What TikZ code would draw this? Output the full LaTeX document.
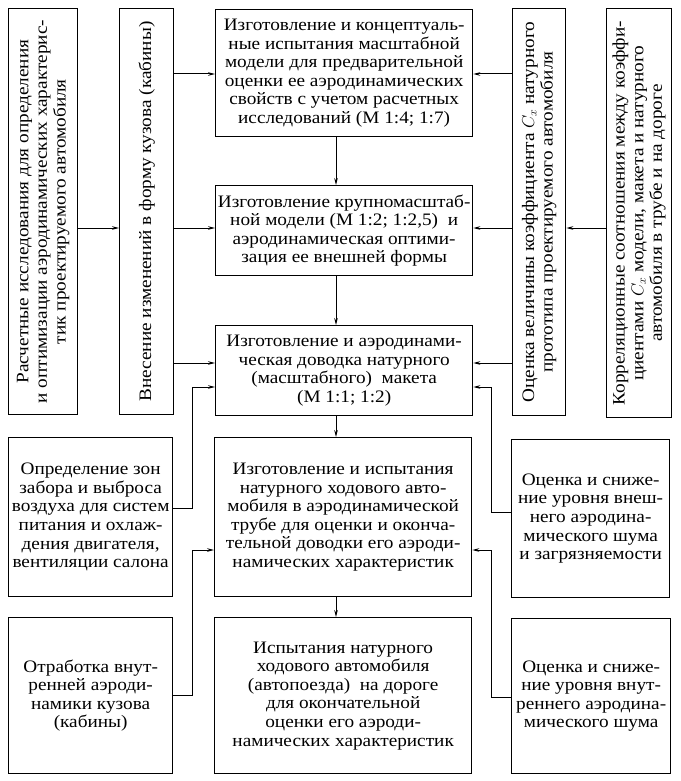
\documentclass[tikz,border=0pt]{standalone}
\usepackage{fontspec}
\setmainfont{Liberation Serif}[FakeStretch=1.1]
\usetikzlibrary{arrows.meta}
\newcommand\fs{\fontsize{17.5}{18.6}\selectfont}
\begin{document}
\begin{tikzpicture}[x=1pt,y=-1pt,
  box/.style={draw, line width=1.3pt, inner sep=0pt, align=center, anchor=north west, font=\fs},
  vtext/.style={rotate=90, align=center, inner sep=0pt, font=\fs},
  arr/.style={line width=1pt, -{Stealth[length=7pt,width=3.6pt]}}]
\useasboundingbox (0,0) rectangle (680,781);
\fill[white] (0,0) rectangle (680,781);
% boxes
\node[box, minimum width=69pt, minimum height=406pt] (A) at (8,8) {};
\node[vtext] at (A.center) {Расчетные исследования для определения\\и оптимизации аэродинамических характерис-\\тик проектируемого автомобиля};
\node[box, minimum width=54pt, minimum height=406pt] (B) at (119,8) {};
\node[vtext] at (B.center) {Внесение изменений в форму кузова (кабины)};
\node[box, minimum width=257pt, minimum height=127pt] (C) at (215,9) {Изготовление и концептуаль-\\ные испытания масштабной\\модели для предварительной\\оценки ее аэродинамических\\свойств с учетом расчетных\\исследований (М 1:4; 1:7)};
\node[box, minimum width=257pt, minimum height=90pt] (D) at (215,185) {Изготовление крупномасштаб-\\ной модели (М 1:2; 1:2,5) \ и\\аэродинамическая оптими-\\зация ее внешней формы};
\node[box, minimum width=257pt, minimum height=90pt] (E) at (215,325) {Изготовление и аэродинами-\\ческая доводка натурного\\(масштабного) \ макета\\(М 1:1; 1:2)};
\node[box, minimum width=53pt, minimum height=407pt] (F) at (512,8) {};
\node[vtext] at (F.center) {Оценка величины коэффициента $C_x$ натурного\\прототипа проектируемого автомобиля};
\node[box, minimum width=65pt, minimum height=409pt] (G) at (606,8) {};
\node[vtext] at (G.center) {Корреляционные соотношения между коэффи-\\циентами $C_x$ модели, макета и натурного\\автомобиля в трубе и на дороге};
\node[box, minimum width=164pt, minimum height=159pt] (H) at (8,437) {Определение зон\\забора и выброса\\воздуха для систем\\питания и охлаж-\\дения двигателя,\\вентиляции салона};
\node[box, minimum width=257pt, minimum height=159pt] (I) at (214,437) {Изготовление и испытания\\натурного ходового авто-\\мобиля в аэродинамической\\трубе для оценки и оконча-\\тельной доводки его аэроди-\\намических характеристик};
\node[box, minimum width=158pt, minimum height=158pt] (J) at (511,439) {Оценка и сниже-\\ние уровня внеш-\\него аэродина-\\мического шума\\и загрязняемости};
\node[box, minimum width=164pt, minimum height=156pt] (K) at (8,617) {Отработка внут-\\ренней аэроди-\\намики кузова\\(кабины)};
\node[box, minimum width=257pt, minimum height=156pt] (L) at (214,617) {Испытания натурного\\ходового автомобиля\\(автопоезда) \ на дороге\\для окончательной\\оценки его аэроди-\\намических характеристик};
\node[box, minimum width=159pt, minimum height=155pt] (M) at (511,618) {Оценка и сниже-\\ние уровня внут-\\реннего аэродина-\\мического шума};
% levels
\coordinate (yc) at (0,74);
\coordinate (yd) at (0,228);
\coordinate (ye1) at (0,363);
\coordinate (ye2) at (0,387);
\coordinate (yi) at (0,550);
\coordinate (yh) at (0,508);
\coordinate (yj) at (0,512);
\coordinate (yk) at (0,695);
\coordinate (ym) at (0,697);
\coordinate (xl) at (192,0);
\coordinate (xr) at (491,0);
\coordinate (xm) at (336,0);
% connectors
\draw[arr] (A.east |- yd) -- (B.west |- yd);
\draw[arr] (B.east |- yc) -- (C.west |- yc);
\draw[arr] (B.east |- yd) -- (D.west |- yd);
\draw[arr] (B.east |- ye1) -- (E.west |- ye1);
\draw[arr] (F.west |- yc) -- (C.east |- yc);
\draw[arr] (F.west |- yd) -- (D.east |- yd);
\draw[arr] (F.west |- ye1) -- (E.east |- ye1);
\draw[arr] (G.west |- yd) -- (F.east |- yd);
\draw[arr] (xm |- C.south) -- (xm |- D.north);
\draw[arr] (xm |- D.south) -- (xm |- E.north);
\draw[arr] (xm |- E.south) -- (xm |- I.north);
\draw[arr] (xm |- I.south) -- (xm |- L.north);
\draw[arr] (H.east |- yh) -- (xl |- yh) -- (xl |- ye2) -- (E.west |- ye2);
\draw[arr] (K.east |- yk) -- (xl |- yk) -- (xl |- yi) -- (I.west |- yi);
\draw[arr] (J.west |- yj) -- (xr |- yj) -- (xr |- ye2) -- (E.east |- ye2);
\draw[arr] (M.west |- ym) -- (xr |- ym) -- (xr |- yi) -- (I.east |- yi);
\end{tikzpicture}
\end{document}
